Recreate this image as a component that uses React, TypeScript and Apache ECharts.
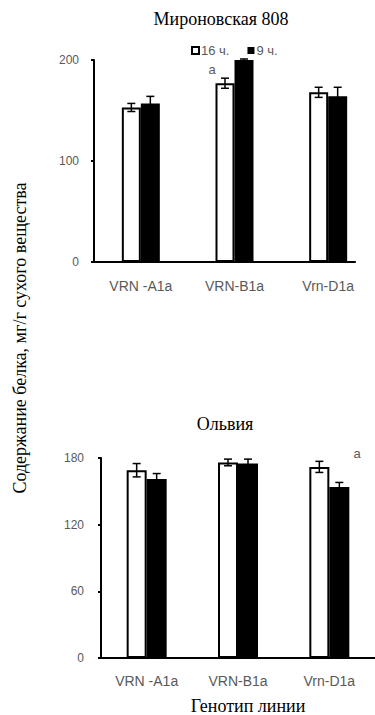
import React, { useEffect, useRef } from "react";
import * as echarts from "echarts";

const categories = ["VRN -A1a", "VRN-B1a", "Vrn-D1a"];
const seriesNames = ["16 ч.", "9 ч."];

// Мироновская 808
const mir16 = [153, 177, 168];
const mir16Err = [4, 5, 5];
const mir9 = [157, 200, 164];
const mir9Err = [7, 1, 9];

// Ольвия
const olv16 = [169, 176, 172];
const olv16Err = [6, 3, 5];
const olv9 = [161, 175, 154];
const olv9Err = [5, 4, 4];

const topTicks = { max: 200, interval: 100 };
const botTicks = { max: 180, interval: 60 };

const SANS = "'Liberation Sans', Arial, sans-serif";
const SERIF = "'Liberation Serif', 'Times New Roman', serif";
const GREY = "#595959";

function errSeries(
  name: string,
  means: number[],
  errs: number[],
  axis: number,
  offset: number
) {
  return {
    type: "custom",
    name: name + "-err",
    xAxisIndex: axis,
    yAxisIndex: axis,
    z: 5,
    silent: true,
    data: means.map((m, i) => [i, m, errs[i]]),
    renderItem: (_p: any, api: any) => {
      const i = api.value(0);
      const m = api.value(1);
      const e = api.value(2);
      const c = api.coord([i, m]);
      const x = c[0] + offset;
      const top = api.coord([i, m + e])[1];
      const bot = api.coord([i, m - e])[1];
      const st = { stroke: "#000", lineWidth: 1.5 };
      return {
        type: "group",
        children: [
          { type: "line", shape: { x1: x, y1: top, x2: x, y2: bot }, style: st },
          { type: "line", shape: { x1: x - 4, y1: top, x2: x + 4, y2: top }, style: st },
          { type: "line", shape: { x1: x - 4, y1: bot, x2: x + 4, y2: bot }, style: st },
        ],
      };
    },
  };
}

export default function App() {
  const ref = useRef<HTMLDivElement>(null);
  useEffect(() => {
    const chart = echarts.init(ref.current!, undefined, { renderer: "svg" });
    const catAxisLabel = { color: GREY, fontSize: 14, fontFamily: SANS };
    const valAxisLabel = { color: GREY, fontSize: 12, fontFamily: SANS };
    const blackLine = { show: true, lineStyle: { color: "#000", width: 2 } };
    const topBW = 19;
    const botBW = 20;
    const serifText = (text: string, x: number, y: number, rot = 0) => ({
      type: "text",
      x,
      y,
      rotation: rot,
      style: {
        text,
        font: `18px ${SERIF}`,
        fill: "#000",
        textAlign: "center",
        textVerticalAlign: "middle",
      },
    });
    const sigText = (x: number, y: number) => ({
      type: "text",
      x,
      y,
      style: {
        text: "a",
        font: `13px ${SANS}`,
        fill: GREY,
        textAlign: "center",
        textVerticalAlign: "middle",
      },
    });
    chart.setOption({
      animation: false,
      backgroundColor: "#fff",
      grid: [
        { left: 94, top: 60, width: 281, height: 202 },
        { left: 94, top: 60, width: 261, height: 202 },
        { left: 101, top: 458, width: 295, height: 200 },
      ],
      legend: {
        data: seriesNames,
        left: 186,
        top: 39,
        itemWidth: 7,
        itemHeight: 7,
        itemGap: 18,
        icon: "rect",
        textStyle: { color: GREY, fontSize: 13, fontFamily: SANS, padding: [0, 0, 0, -3] },
      },
      xAxis: [
        {
          type: "category",
          gridIndex: 0,
          data: categories,
          axisLine: { show: false },
          axisTick: { show: false },
          axisLabel: { ...catAxisLabel, margin: 17 },
        },
        {
          type: "value",
          gridIndex: 1,
          min: 0,
          max: 1,
          axisLine: blackLine,
          axisTick: { show: false },
          axisLabel: { show: false },
          splitLine: { show: false },
        },
        {
          type: "category",
          gridIndex: 2,
          data: categories,
          axisLine: blackLine,
          axisTick: { show: false },
          axisLabel: { ...catAxisLabel, margin: 16 },
        },
      ],
      yAxis: [
        {
          type: "value",
          gridIndex: 0,
          min: 0,
          max: topTicks.max,
          interval: topTicks.interval,
          axisLine: blackLine,
          axisTick: { show: true, length: 3, lineStyle: { color: "#000", width: 2 } },
          axisLabel: { ...valAxisLabel, margin: 15 },
          splitLine: { show: false },
        },
        {
          type: "value",
          gridIndex: 1,
          min: 0,
          max: 1,
          show: false,
        },
        {
          type: "value",
          gridIndex: 2,
          min: 0,
          max: botTicks.max,
          interval: botTicks.interval,
          axisLine: blackLine,
          axisTick: { show: true, length: 3, lineStyle: { color: "#000", width: 2 } },
          axisLabel: { ...valAxisLabel, margin: 17 },
          splitLine: { show: false },
        },
      ],
      series: [
        {
          type: "bar",
          name: seriesNames[0],
          xAxisIndex: 0,
          yAxisIndex: 0,
          data: mir16,
          barWidth: topBW,
          barGap: "0%",
          itemStyle: { color: "#fff", borderColor: "#000", borderWidth: 2 },
        },
        {
          type: "bar",
          name: seriesNames[1],
          xAxisIndex: 0,
          yAxisIndex: 0,
          data: mir9,
          barWidth: topBW,
          barGap: "0%",
          itemStyle: { color: "#000" },
        },
        {
          type: "bar",
          name: seriesNames[0],
          xAxisIndex: 2,
          yAxisIndex: 2,
          data: olv16,
          barWidth: botBW,
          barGap: "0%",
          itemStyle: { color: "#fff", borderColor: "#000", borderWidth: 2 },
        },
        {
          type: "bar",
          name: seriesNames[1],
          xAxisIndex: 2,
          yAxisIndex: 2,
          data: olv9,
          barWidth: botBW,
          barGap: "0%",
          itemStyle: { color: "#000" },
        },
        errSeries("m16", mir16, mir16Err, 0, -topBW / 2),
        errSeries("m9", mir9, mir9Err, 0, topBW / 2),
        errSeries("o16", olv16, olv16Err, 2, -botBW / 2),
        errSeries("o9", olv9, olv9Err, 2, botBW / 2),
      ],
      graphic: [
        serifText("Мироновская 808", 221, 19),
        serifText("Ольвия", 225, 424),
        serifText("Генотип линии", 248, 706),
        serifText("Содержание белка, мг/г сухого вещества", 20, 338, Math.PI / 2),
        sigText(212, 69),
        sigText(357, 453),
      ],
    });
    return () => chart.dispose();
  }, []);
  return (
    <div
      ref={ref}
      style={{ position: "absolute", left: 0, top: 0, width: 375, height: 715 }}
    />
  );
}
